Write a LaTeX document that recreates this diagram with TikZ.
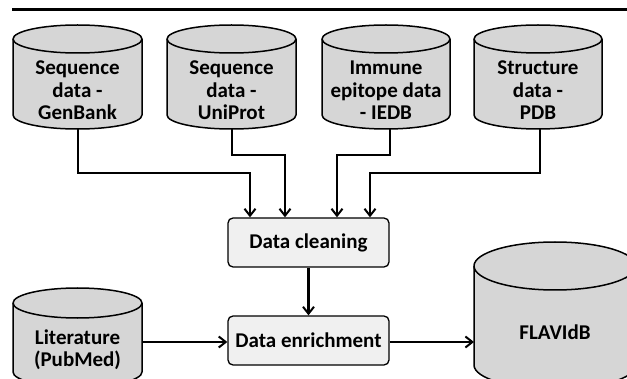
\documentclass[tikz,border=0pt]{standalone}
\usepackage{fontspec}
\setmainfont{Carlito}
\usetikzlibrary{arrows.meta}
\definecolor{cylgray}{HTML}{D6D6D6}
\definecolor{boxgray}{HTML}{F0F0F0}
\tikzset{
  cylline/.style={draw=black, line width=1.5pt, fill=cylgray},
  cyledge/.style={draw=black, line width=1.5pt},
  lbl/.style={font=\fontsize{21}{22.5}\selectfont\bfseries, align=center, inner sep=0pt},
  stepbox/.style={draw=black, line width=1.3pt, fill=boxgray, rounded corners=5pt,
    minimum width=161pt, minimum height=49pt, inner sep=0pt,
    font=\fontsize{21}{22.5}\selectfont\bfseries},
  conn/.style={line width=2.6pt, -{Straight Barb[length=7pt,width=11pt,line width=2pt]}},
}
% #1 cx, #2 top ellipse centre Y, #3 bottom ellipse centre Y, #4 rx, #5 ry
\newcommand\dbcyl[5]{%
  \path[cylline] (#1-#4,#2) -- (#1-#4,#3)
     arc[start angle=180,end angle=360,x radius=#4,y radius=#5]
     -- (#1+#4,#2) arc[start angle=0,end angle=180,x radius=#4,y radius=#5] -- cycle;
  \draw[cyledge] (#1-#4,#2) arc[start angle=180,end angle=360,x radius=#4,y radius=#5];
}
\begin{document}
\begin{tikzpicture}[x=1pt,y=1pt]
\useasboundingbox (0,0) rectangle (627,378);
\clip (0,0) rectangle (627,378);
\fill[white] (0,0) rectangle (627,378);
% top rule
\draw[line width=3pt] (12,368) -- (627,368);
% top cylinders
\dbcyl{77.5}{339}{263}{64.5}{14}
\dbcyl{231.5}{339}{263}{64.5}{14}
\dbcyl{386}{339}{263}{64}{14}
\dbcyl{538}{339}{263}{64}{14}
\node[lbl] (gb) at (77.5,287.5) {Sequence\\data -\\GenBank};
\node[lbl] (up) at (231.5,287.5) {Sequence\\data -\\UniProt};
\node[lbl] (ie) at (386,287.5) {Immune\\epitope data\\- IEDB};
\node[lbl] (pdb) at (538,287.5) {Structure\\data -\\PDB};
\coordinate (gbs) at (78,249);
\coordinate (ups) at (232,249);
\coordinate (ies) at (390,249);
\coordinate (pdbs) at (540,249);
% lower cylinders
\dbcyl{77.5}{75}{6}{64.5}{15}
\node[lbl] (lit) at (77.5,28.5) {Literature\\(PubMed)};
\coordinate (lite) at (142,36);
\dbcyl{555}{112}{13}{81}{24}
\node[lbl] (flav) at (555,46) {FLAVIdB};
\coordinate (flavw) at (474,36);
% boxes
\node[stepbox] (clean) at (308.5,135.5) {Data cleaning};
\node[stepbox] (enrich) at (308.5,37.5) {Data enrichment};
% connectors
\draw[conn] (gbs) |- (250,205) -- ([xshift=-58.5pt]clean.north);
\draw[conn] (ups) |- (285,223) -- ([xshift=-23.5pt]clean.north);
\draw[conn] (ies) |- (337,223) -- ([xshift=28.5pt]clean.north);
\draw[conn] (pdbs) |- (370,205) -- ([xshift=61.5pt]clean.north);
\draw[conn] (clean) -- (enrich);
\draw[conn] (lite) -- (lite -| enrich.west);
\draw[conn] (enrich.east |- flavw) -- (flavw);
\end{tikzpicture}
\end{document}
